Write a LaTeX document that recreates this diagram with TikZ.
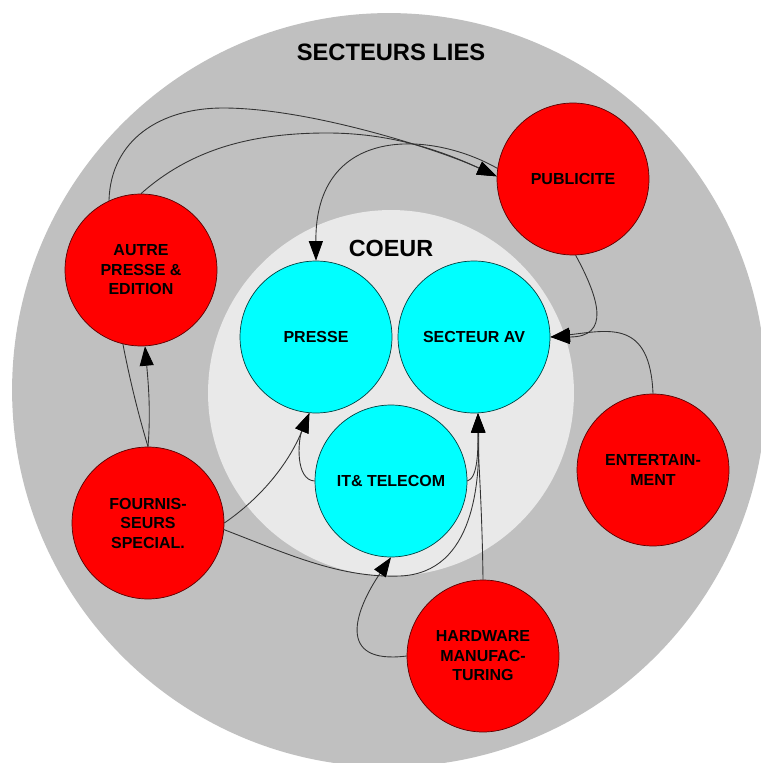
\documentclass[tikz,border=0pt]{standalone}
\usepackage{fontspec}
\setmainfont{Liberation Sans}
\usetikzlibrary{arrows.meta}
\definecolor{ringgray}{RGB}{192,192,192}
\definecolor{coregray}{RGB}{233,233,233}
\definecolor{sectred}{RGB}{255,0,0}
\definecolor{corecyan}{RGB}{0,255,255}
\pgfdeclarelayer{background}
\pgfdeclarelayer{links}
\pgfsetlayers{background,links,main}

\begin{document}
\begin{tikzpicture}[x=0.02cm, y=-0.02cm,
    sector/.style={circle, line width=0.4pt, minimum size=3.04cm, inner sep=0pt, align=center, font=\fontsize{9.1}{11.1}\selectfont\bfseries},
    core/.style={sector, fill=corecyan, draw=teal!50!black},
    linked/.style={sector, fill=sectred, draw=red!35!black},
    link/.style={-{Triangle[length=3.9mm, width=2.8mm, color=black]}, line width=0.5pt, black!80}]
    \useasboundingbox (0,0) rectangle (760,763);

    \begin{pgfonlayer}{background}
        \fill[ringgray] (389,390) circle[radius=7.54cm];
        \fill[coregray] (391,393) circle[radius=3.66cm];
    \end{pgfonlayer}

    \node[font=\fontsize{13.5}{15}\selectfont\bfseries] (lies) at (391,52) {SECTEURS LIES};
    \node[font=\fontsize{13.3}{15}\selectfont\bfseries] (coeur) at (391,248) {COEUR};

    \node[core] (presse) at (316,337) {PRESSE};
    \node[core] (secav) at (474,337) {SECTEUR AV};
    \node[core] (it) at (391,481) {IT\& TELECOM};

    \node[linked] (publ) at (573,179) {PUBLICITE};
    \node[linked] (autre) at (141,270) {AUTRE\\PRESSE \&\\EDITION};
    \node[linked] (fourn) at (148,523) {FOURNIS-\\SEURS\\SPECIAL.};
    \node[linked] (ent) at (653,470) {ENTERTAIN-\\MENT};
    \node[linked] (hard) at (483,656) {HARDWARE\\MANUFAC-\\TURING};

    \begin{pgfonlayer}{links}
        % towards PUBLICITE
        \draw[link] (fourn.north) .. controls (125,370) and (106,270) .. (109,200) .. controls (111,140) and (160,108) .. (223,108) .. controls (310,108) and (440,150) .. (publ.178);
        \draw[link] (autre.north) .. controls (190,150) and (250,133) .. (327,133) .. controls (390,133) and (440,150) .. (publ.178);
        \draw[link] (fourn.north) .. controls (151,410) and (148,380) .. (autre.-87);
        % from PUBLICITE
        \draw[link] (publ.172) .. controls (430,130) and (315,125) .. (presse.north);
        \draw[link] (publ.-88) .. controls (600,300) and (610,337) .. (secav.east);
        \draw[link] (ent.north) .. controls (650,320) and (610,330) .. (secav.east);
        % into the core
        \draw[link] (fourn.east) .. controls (265,495) and (290,460) .. (presse.-95);
        \draw[link] (fourn.-5) .. controls (290,555) and (340,578) .. (400,576) .. controls (475,573) and (480,480) .. (secav.-87);
        \draw[link] (it.west) .. controls (295,480) and (298,440) .. (presse.-95);
        \draw[link] (it.east) .. controls (478,478) and (478,450) .. (secav.-87);
        \draw[link] (hard.north) .. controls (482,500) and (478,460) .. (secav.-87);
        \draw[link] (hard.west) .. controls (335,665) and (355,610) .. (it.-90);
    \end{pgfonlayer}
\end{tikzpicture}
\end{document}
